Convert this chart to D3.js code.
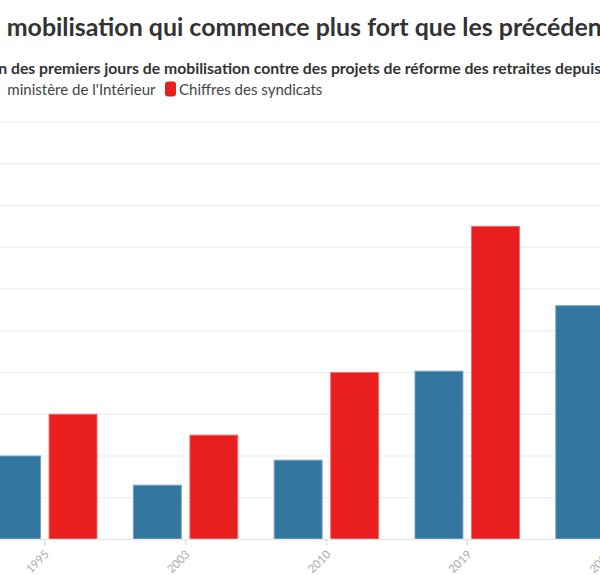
<!DOCTYPE html>
<html lang="fr">
<head>
<meta charset="UTF-8">
<script src="https://d3js.org/d3.v7.min.js"></script>
<style>
  body { margin: 0; background: #fff; overflow: hidden; }
  text { font-family: "Lato", "Open Sans", sans-serif; }
</style>
</head>
<body>
<svg id="svg1" width="600" height="575"></svg>
<script>

// data (manifestants, premier jour de mobilisation)
const years = ["1995", "2003", "2010", "2019", "2023"]
const interieur = [400000, 260000, 380000, 806000, 1120000]
const syndicats = [600000, 500000, 800000, 1500000, 2000000]
const seriesNames = ["Chiffres du ministère de l'Intérieur", "Chiffres des syndicats"]
const colors = ["#33769f", "#e91e1e"]
const strokes = ["#6f9fc4", "#f26a6a"]

const width = 600, height = 575
let svg = d3.select("#svg1")

// the chart is wider than the window : plot runs past both edges
let x0 = d3.scaleBand().domain(years).range([-25.6, 678.4]).paddingInner(0.2585).paddingOuter(0.129)
let x1 = d3.scaleBand().domain([0, 1]).range([0, x0.bandwidth()]).paddingInner(0.1525)
let y = d3.scaleLinear().domain([0, 2000000]).range([539.5, 122])

// grid
svg.append("g")
    .selectAll("line")
    .data(y.ticks(10).filter(d => d > 0))
    .enter()
    .append("line")
    .attr("x1", -100).attr("x2", 700)
    .attr("y1", d => y(d)).attr("y2", d => y(d))
    .style("stroke", "#ebebeb").style("stroke-width", 1)

// bars
let rows = years.map((yr, i) => ({ year: yr, values: [interieur[i], syndicats[i]] }))
let groups = svg.append("g")
    .selectAll("g")
    .data(rows)
    .enter()
    .append("g")
    .attr("transform", d => `translate(${x0(d.year)},0)`)

groups.selectAll("rect")
    .data(d => d.values.map((v, k) => ({ k: k, v: v })))
    .enter()
    .append("rect")
    .attr("x", d => x1(d.k))
    .attr("width", x1.bandwidth())
    .attr("y", d => y(d.v))
    .attr("height", d => y(0) - y(d.v))
    .style("fill", d => colors[d.k])
    .style("stroke", d => strokes[d.k])
    .style("stroke-width", 1)

// x axis
svg.append("line")
    .attr("x1", -100).attr("x2", 700)
    .attr("y1", y(0)).attr("y2", y(0))
    .style("stroke", "#e6e6e6").style("stroke-width", 1.5)

let ticks = svg.append("g")
    .selectAll("g")
    .data(years)
    .enter()
    .append("g")
    .attr("transform", d => `translate(${x0(d) + x0.bandwidth() / 2},0)`)

ticks.append("line")
    .attr("y1", y(0)).attr("y2", y(0) + 6)
    .style("stroke", "#e3e3e3").style("stroke-width", 1.5)

ticks.append("text")
    .attr("transform", "translate(5,555) rotate(-45)")
    .attr("text-anchor", "end")
    .style("font-size", "11.5px")
    .style("fill", "#ababab")
    .text(d => d)

// texts : fit the visible part between x positions
function fitText(t, xa, xb, base, gap) {
    gap = gap || 0
    t.style("font-size", base + "px")
    t.select(".vis").attr("dx", gap)
    let w = t.select(".vis").node().getComputedTextLength()
    let fs = base * (xb - xa) / w
    t.style("font-size", fs + "px")
    let pw = t.select(".pre").node().getComputedTextLength()
    t.attr("x", xa - pw - gap)
    return fs
}

let title = svg.append("text")
    .attr("y", 36)
    .style("font-weight", "bold")
    .style("fill", "#333")
title.append("tspan").attr("class", "pre").text("Une ")
title.append("tspan").attr("class", "vis").text("mobilisation qui commence plus fort que les")
title.append("tspan").text(" précédentes")
fitText(title, 6.7, 493, 25)

let sub = svg.append("text")
    .attr("y", 74)
    .style("font-weight", "bold")
    .style("fill", "#333")
sub.append("tspan").attr("class", "pre").text("Comparaison ")
sub.append("tspan").attr("class", "vis").text("des premiers jours de mobilisation contre des projets de réforme des retraites")
sub.append("tspan").text(" depuis 1995")
fitText(sub, 11, 551.7, 15)

// legend
let leg1 = svg.append("text")
    .attr("y", 95)
    .style("fill", "#444")
leg1.append("tspan").attr("class", "pre").text("Chiffres du ")
leg1.append("tspan").attr("class", "vis").text("ministère de l'Intérieur")
let legSize = fitText(leg1, 7.3, 155.7, 15, 4)
let leg1x = +leg1.attr("x")

svg.append("rect")
    .attr("x", leg1x - 15).attr("y", 81.5)
    .attr("width", 11).attr("height", 15).attr("rx", 3)
    .style("fill", colors[0])

svg.append("rect")
    .attr("x", 165).attr("y", 81.5)
    .attr("width", 11).attr("height", 15).attr("rx", 3)
    .style("fill", colors[1])

svg.append("text")
    .attr("x", 179).attr("y", 95)
    .style("font-size", legSize + "px")
    .style("fill", "#444")
    .text(seriesNames[1])

</script>
</body>
</html>
